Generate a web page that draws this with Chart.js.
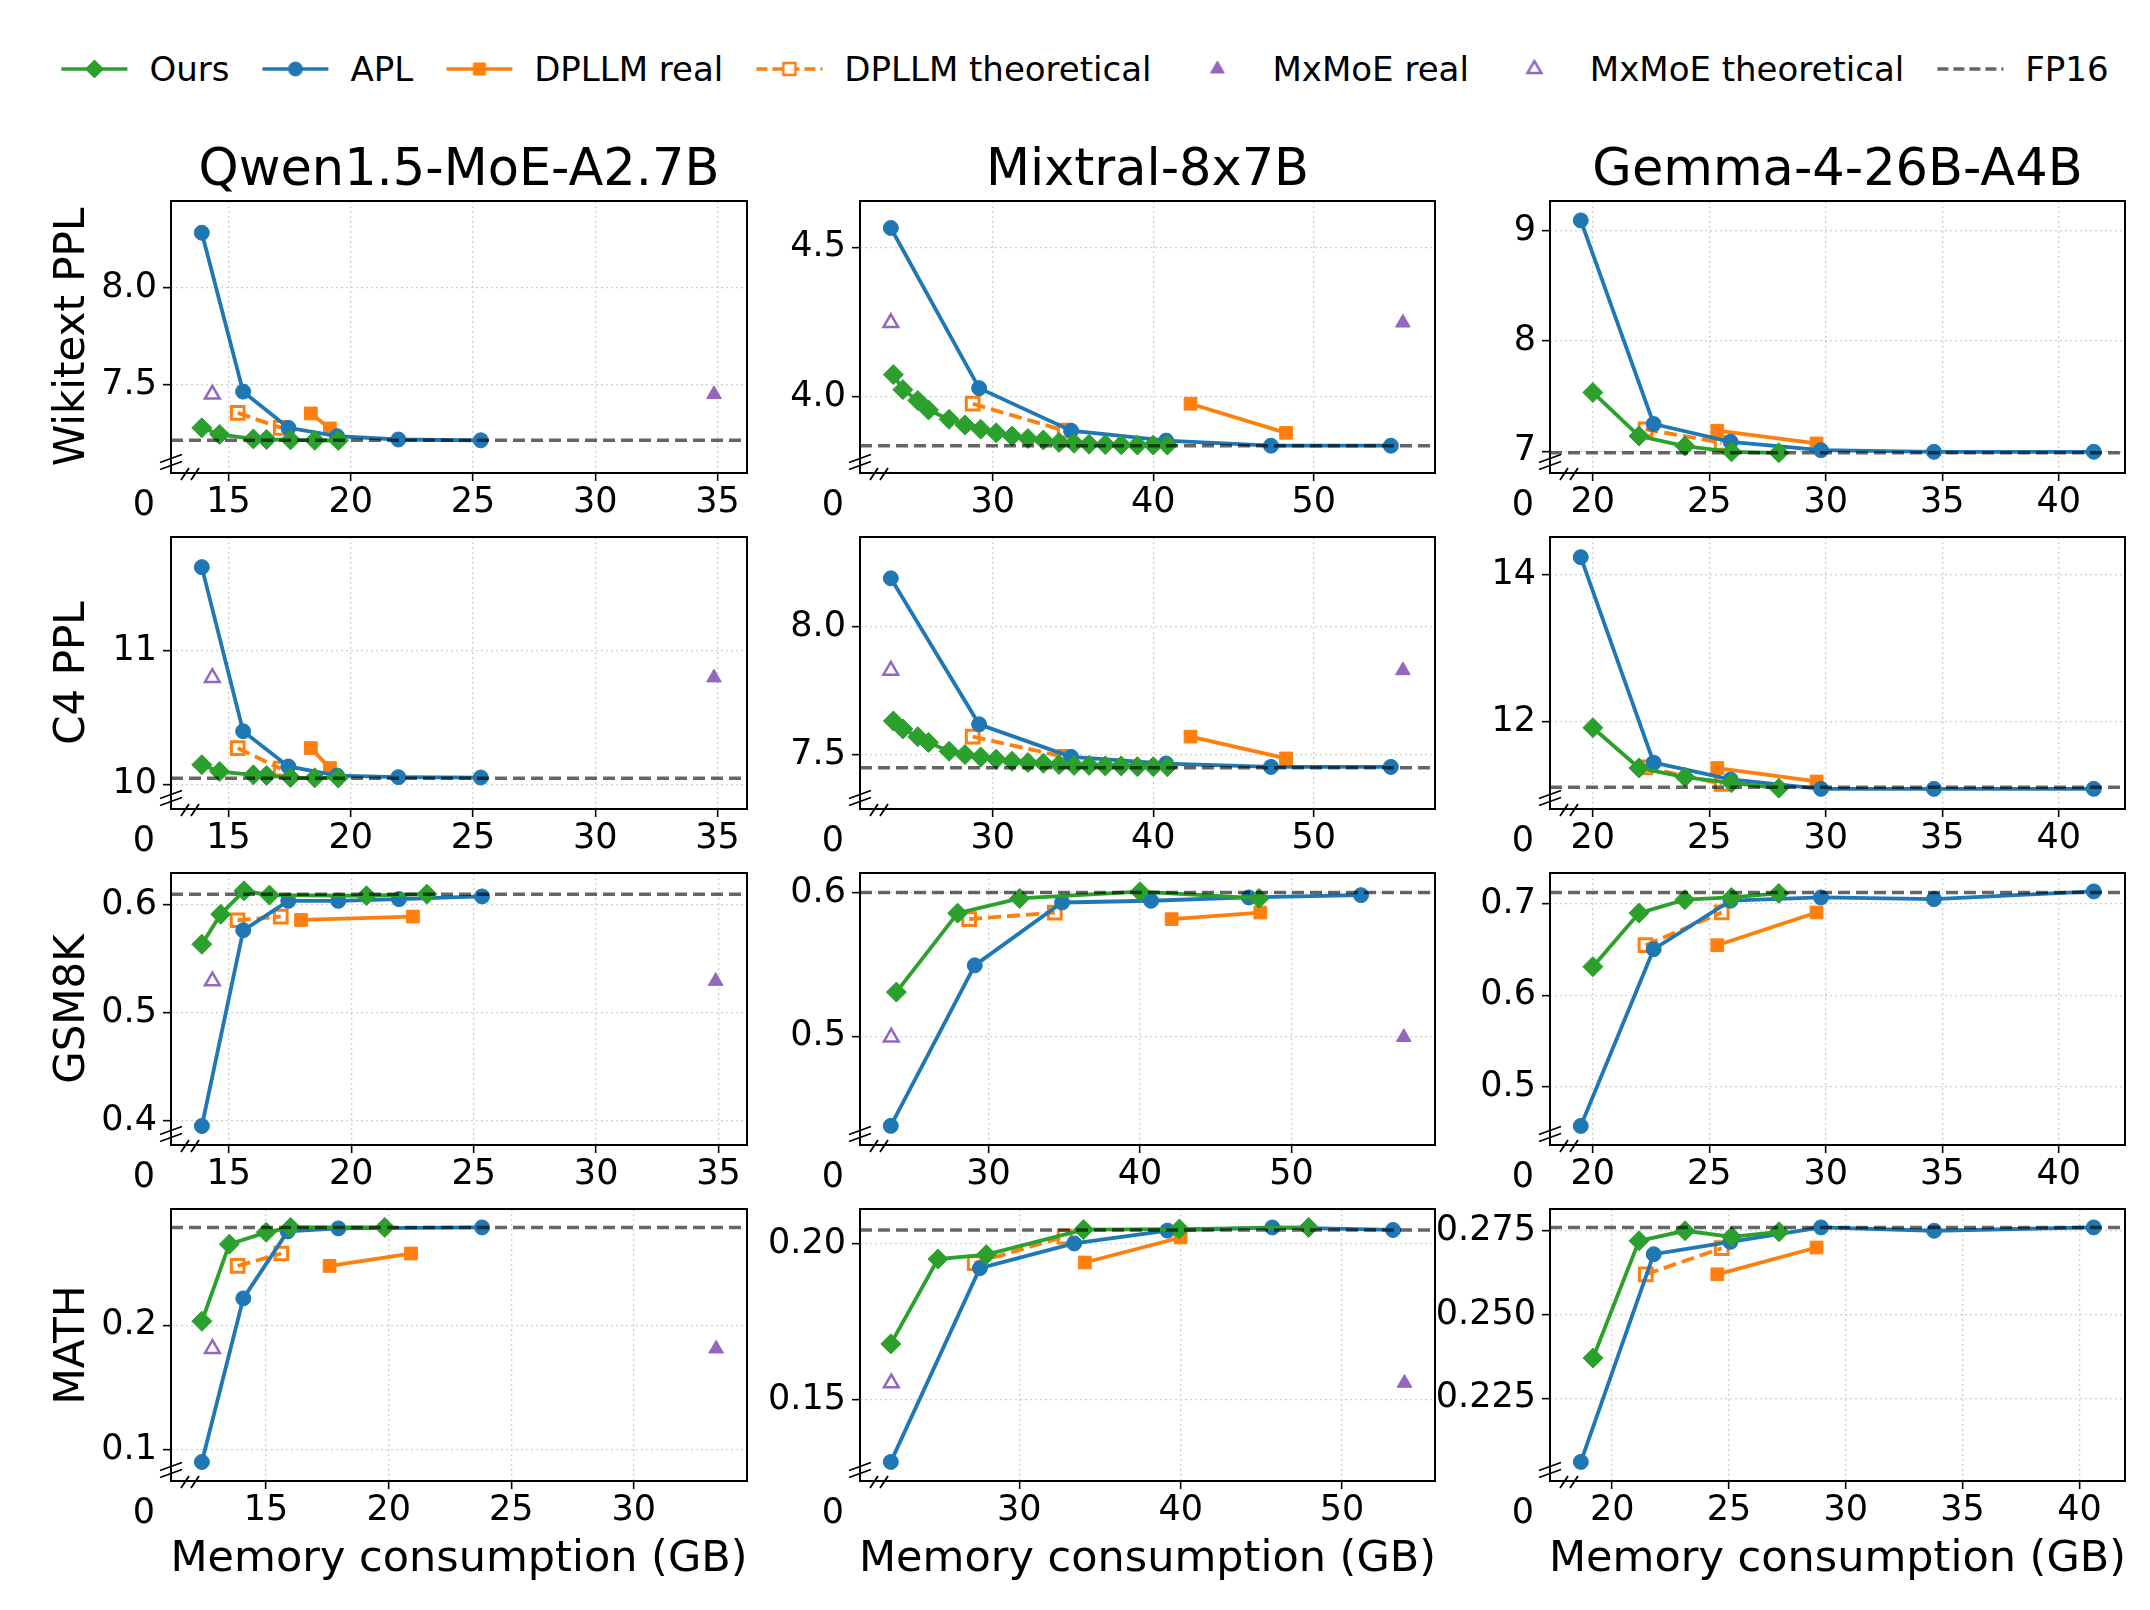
<!DOCTYPE html>
<html>
<head>
<meta charset="utf-8">
<script src="https://cdn.jsdelivr.net/npm/chart.js@4.4.0/dist/chart.umd.min.js"></script>
<style>
  body { margin: 0; background: #fff; }
  #fig { position: relative; width: 2150px; height: 1610px; overflow: hidden;
         font-family: 'DejaVu Sans', sans-serif; color: #000; }
  canvas.panel { position: absolute; }
  .txt { position: absolute; white-space: nowrap; line-height: 1; transform: translate(-50%, -50%); }
  .ylab { transform: translate(-50%, -50%) rotate(-90deg); }
  #legend { position: absolute; left: 1085px; top: 69px; transform: translate(-50%, -50%);
            display: flex; align-items: center; font-size: 34px; white-space: nowrap; }
  #legend .item { display: flex; align-items: center; margin-right: 33px; }
  #legend .item:last-child { margin-right: 0; }
  #legend span { margin-left: 22px; line-height: 1; }
</style>
</head>
<body>
<div id="fig"><div id="legend"></div></div>
<script>
// ---------------- data (memory GB, metric) ----------------

// x ticks per column
const qwenXTicks     = [15, 20, 25, 30, 35];
const qwenMathXTicks = [15, 20, 25, 30];
const mixtralXTicks  = [30, 40, 50];
const gemmaXTicks    = [20, 25, 30, 35, 40];

/* ---- Qwen1.5-MoE-A2.7B : Wikitext PPL ---- */
const qwenWikiOurs   = [[13.91, 7.280], [14.64, 7.246], [16.02, 7.223], [16.56, 7.220], [17.54, 7.218], [18.53, 7.216], [19.49, 7.215]];
const qwenWikiApl    = [[13.91, 8.282], [15.60, 7.466], [17.45, 7.280], [19.44, 7.237], [21.95, 7.220], [25.32, 7.216]];
const qwenWikiDpTheo = [[15.38, 7.357], [17.14, 7.280]];
const qwenWikiDpReal = [[18.37, 7.354], [19.15, 7.277]];
const qwenWikiMxTheo = [[14.34, 7.452]];
const qwenWikiMxReal = [[34.86, 7.452]];
const qwenWikiFp16   = 7.216;
const qwenWikiXLim   = [12.65, 36.21];
const qwenWikiYLim   = [7.048, 8.445];
const qwenWikiYTicks = ['7.5', '8.0'];

/* ---- Mixtral-8x7B : Wikitext PPL ---- */
const mixWikiOurs   = [[23.81, 4.075], [24.40, 4.025], [25.33, 3.989], [26.00, 3.957], [27.28, 3.926], [28.27, 3.907],
                       [29.25, 3.893], [30.21, 3.881], [31.20, 3.870], [32.19, 3.862], [33.15, 3.857], [34.13, 3.849],
                       [35.07, 3.846], [36.00, 3.843], [37.01, 3.842], [38.00, 3.841], [39.01, 3.840], [40.00, 3.840], [40.88, 3.840]];
const mixWikiApl    = [[23.65, 4.564], [29.15, 4.030], [34.88, 3.888], [40.80, 3.855], [47.33, 3.838], [54.80, 3.838]];
const mixWikiDpTheo = [[28.75, 3.978], [34.48, 3.888]];
const mixWikiDpReal = [[42.32, 3.978], [48.27, 3.881]];
const mixWikiMxTheo = [[23.65, 4.248]];
const mixWikiMxReal = [[55.55, 4.248]];
const mixWikiFp16   = 3.838;
const mixWikiXLim   = [21.73, 57.55];
const mixWikiYLim   = [3.747, 4.654];
const mixWikiYTicks = ['4.0', '4.5'];

/* ---- Gemma-4-26B-A4B : Wikitext PPL ---- */
const gemWikiOurs   = [[20.00, 7.532], [21.98, 7.137], [23.95, 7.046], [25.95, 6.994], [27.98, 6.985]];
const gemWikiApl    = [[19.48, 9.091], [22.61, 7.246], [25.91, 7.085], [29.79, 7.009], [34.64, 6.994], [41.50, 6.994]];
const gemWikiDpTheo = [[22.26, 7.198], [25.53, 7.076]];
const gemWikiDpReal = [[25.34, 7.185], [29.60, 7.070]];
const gemWikiFp16   = 6.985;
const gemWikiXLim   = [18.16, 42.84];
const gemWikiYLim   = [6.802, 9.267];
const gemWikiYTicks = ['7', '8', '9'];

/* ---- Qwen : C4 PPL ---- */
const qwenC4Ours   = [[13.91, 10.146], [14.64, 10.095], [16.02, 10.070], [16.56, 10.065], [17.54, 10.050], [18.53, 10.048], [19.49, 10.047]];
const qwenC4Apl    = [[13.91, 11.628], [15.60, 10.397], [17.45, 10.133], [19.44, 10.065], [21.95, 10.053], [25.32, 10.050]];
const qwenC4DpTheo = [[15.38, 10.271], [17.14, 10.116]];
const qwenC4DpReal = [[18.37, 10.271], [19.15, 10.121]];
const qwenC4MxTheo = [[14.34, 10.799]];
const qwenC4MxReal = [[34.86, 10.799]];
const qwenC4Fp16   = 10.045;
const qwenC4XLim   = [12.65, 36.21];
const qwenC4YLim   = [9.814, 11.854];
const qwenC4YTicks = ['10', '11'];

/* ---- Mixtral : C4 PPL ---- */
const mixC4Ours   = [[23.81, 7.632], [24.40, 7.601], [25.33, 7.571], [26.00, 7.548], [27.28, 7.514], [28.27, 7.501],
                     [29.25, 7.492], [30.21, 7.483], [31.20, 7.475], [32.19, 7.470], [33.15, 7.467], [34.13, 7.462],
                     [35.07, 7.459], [36.00, 7.459], [37.01, 7.457], [38.00, 7.457], [39.01, 7.454], [40.00, 7.454], [40.88, 7.454]];
const mixC4Apl    = [[23.65, 8.188], [29.15, 7.619], [34.88, 7.492], [40.80, 7.466], [47.33, 7.453], [54.80, 7.453]];
const mixC4DpTheo = [[28.75, 7.571], [34.48, 7.492]];
const mixC4DpReal = [[42.32, 7.571], [48.27, 7.486]];
const mixC4MxTheo = [[23.65, 7.829]];
const mixC4MxReal = [[55.55, 7.829]];
const mixC4Fp16   = 7.450;
const mixC4XLim   = [21.73, 57.55];
const mixC4YLim   = [7.289, 8.349];
const mixC4YTicks = ['7.5', '8.0'];

/* ---- Gemma : C4 PPL ---- */
const gemC4Ours   = [[20.00, 11.918], [21.98, 11.370], [23.95, 11.247], [25.95, 11.169], [27.98, 11.096]];
const gemC4Apl    = [[19.48, 14.237], [22.61, 11.443], [25.91, 11.215], [29.79, 11.087], [34.64, 11.087], [41.50, 11.087]];
const gemC4DpTheo = [[22.26, 11.380], [25.53, 11.155]];
const gemC4DpReal = [[25.34, 11.370], [29.60, 11.187]];
const gemC4Fp16   = 11.110;
const gemC4XLim   = [18.16, 42.84];
const gemC4YLim   = [10.813, 14.511];
const gemC4YTicks = ['12', '14'];

/* ---- Qwen : GSM8K ---- */
const qwenGsmOurs   = [[13.90, 0.5634], [14.67, 0.5913], [15.62, 0.6130], [16.66, 0.6090], [20.62, 0.6084], [23.09, 0.6099]];
const qwenGsmApl    = [[13.90, 0.3950], [15.59, 0.5764], [17.43, 0.6037], [19.47, 0.6037], [21.95, 0.6053], [25.34, 0.6078]];
const qwenGsmDpTheo = [[15.36, 0.5857], [17.12, 0.5891]];
const qwenGsmDpReal = [[17.95, 0.5860], [22.52, 0.5891]];
const qwenGsmMxTheo = [[14.33, 0.5293]];
const qwenGsmMxReal = [[34.88, 0.5293]];
const qwenGsmFp16   = 0.6099;
const qwenGsmXLim   = [12.64, 36.16];
const qwenGsmYLim   = [0.3774, 0.6295];
const qwenGsmYTicks = ['0.4', '0.5', '0.6'];

/* ---- Mixtral : GSM8K ---- */
const mixGsmOurs   = [[23.93, 0.5307], [27.97, 0.5856], [32.06, 0.5958], [40.00, 0.6005], [47.85, 0.5958]];
const mixGsmApl    = [[23.56, 0.4377], [29.10, 0.5493], [34.86, 0.5930], [40.73, 0.5942], [47.18, 0.5965], [54.58, 0.5981]];
const mixGsmDpTheo = [[28.73, 0.5814], [34.38, 0.5860]];
const mixGsmDpReal = [[42.09, 0.5814], [47.94, 0.5860]];
const mixGsmMxTheo = [[23.59, 0.4993]];
const mixGsmMxReal = [[57.40, 0.4993]];
const mixGsmFp16   = 0.600;
const mixGsmXLim   = [21.53, 59.46];
const mixGsmYLim   = [0.4244, 0.6135];
const mixGsmYTicks = ['0.5', '0.6'];

/* ---- Gemma : GSM8K ---- */
const gemGsmOurs   = [[20.00, 0.6314], [21.98, 0.6901], [23.95, 0.7048], [25.95, 0.7073], [27.98, 0.7117]];
const gemGsmApl    = [[19.48, 0.4567], [22.61, 0.6505], [25.91, 0.7037], [29.79, 0.7073], [34.64, 0.7055], [41.50, 0.7139]];
const gemGsmDpTheo = [[22.26, 0.6549], [25.53, 0.6908]];
const gemGsmDpReal = [[25.34, 0.6549], [29.60, 0.6908]];
const gemGsmFp16   = 0.7128;
const gemGsmXLim   = [18.16, 42.84];
const gemGsmYLim   = [0.4358, 0.7341];
const gemGsmYTicks = ['0.5', '0.6', '0.7'];

/* ---- Qwen : MATH ---- */
const qwenMathOurs   = [[12.38, 0.2032], [13.50, 0.2652], [15.00, 0.2747], [16.00, 0.2787], [19.84, 0.2787]];
const qwenMathApl    = [[12.38, 0.0900], [14.07, 0.2216], [15.88, 0.2755], [17.95, 0.2779], [23.81, 0.2787]];
const qwenMathDpTheo = [[13.84, 0.2477], [15.62, 0.2577]];
const qwenMathDpReal = [[17.59, 0.2477], [20.91, 0.2577]];
const qwenMathMxTheo = [[12.81, 0.1811]];
const qwenMathMxReal = [[33.36, 0.1811]];
const qwenMathFp16   = 0.2787;
const qwenMathXLim   = [11.12, 34.62];
const qwenMathYLim   = [0.0747, 0.2935];
const qwenMathYTicks = ['0.1', '0.2'];

/* ---- Mixtral : MATH ---- */
const mixMathOurs   = [[22.04, 0.1679], [24.96, 0.1950], [27.96, 0.1964], [33.98, 0.2044], [39.92, 0.2046], [47.93, 0.2051]];
const mixMathApl    = [[22.04, 0.1302], [27.56, 0.1921], [33.40, 0.2000], [39.18, 0.2041], [45.68, 0.2051], [53.16, 0.2043]];
const mixMathDpTheo = [[27.24, 0.1937], [32.81, 0.2022]];
const mixMathDpReal = [[34.06, 0.1939], [40.00, 0.2019]];
const mixMathMxTheo = [[22.07, 0.1554]];
const mixMathMxReal = [[53.87, 0.1554]];
const mixMathFp16   = 0.2043;
const mixMathXLim   = [20.13, 55.76];
const mixMathYLim   = [0.1241, 0.2110];
const mixMathYTicks = ['0.15', '0.20'];

/* ---- Gemma : MATH ---- */
const gemMathOurs   = [[19.18, 0.2370], [21.15, 0.2720], [23.12, 0.2750], [25.11, 0.2732], [27.14, 0.2747]];
const gemMathApl    = [[18.66, 0.2060], [21.78, 0.2680], [25.06, 0.2717], [28.94, 0.2760], [33.78, 0.2750], [40.61, 0.2760]];
const gemMathDpTheo = [[21.44, 0.2620], [24.69, 0.2698]];
const gemMathDpReal = [[24.50, 0.2620], [28.75, 0.2700]];
const gemMathFp16   = 0.2760;
const gemMathXLim   = [17.34, 41.95];
const gemMathYLim   = [0.2003, 0.2815];
const gemMathYTicks = ['0.225', '0.250', '0.275'];

const modelTitles = ['Qwen1.5-MoE-A2.7B', 'Mixtral-8x7B', 'Gemma-4-26B-A4B'];
const rowLabels   = ['Wikitext PPL', 'C4 PPL', 'GSM8K', 'MATH'];
const xAxisLabel  = 'Memory consumption (GB)';

// ---------------- layout ----------------
const colLeft  = [171, 860, 1550];
const colRight = [747, 1435, 2125];
const rowTop   = [201, 537, 873, 1209];
const rowH     = 272;
const PADL = 150, PADR = 14, PADT = 14, PADB = 62;
const LW = 3.8;   // line width of the series

const GREEN = '#2ca02c', BLUE = '#1f77b4', ORANGE = '#ff7f0e', PURPLE = '#9467bd';
const FP_COLOR = 'rgba(0,0,0,0.6)';
const NONE = 'rgba(0,0,0,0)';

Chart.defaults.font.family = "'DejaVu Sans', sans-serif";

const panels = [
  { row: 0, col: 0, xTicks: qwenXTicks, xLim: qwenWikiXLim, yLim: qwenWikiYLim, yTicks: qwenWikiYTicks, fp16: qwenWikiFp16,
    ours: qwenWikiOurs, apl: qwenWikiApl, dTheo: qwenWikiDpTheo, dReal: qwenWikiDpReal, mTheo: qwenWikiMxTheo, mReal: qwenWikiMxReal },
  { row: 0, col: 1, xTicks: mixtralXTicks, xLim: mixWikiXLim, yLim: mixWikiYLim, yTicks: mixWikiYTicks, fp16: mixWikiFp16,
    ours: mixWikiOurs, apl: mixWikiApl, dTheo: mixWikiDpTheo, dReal: mixWikiDpReal, mTheo: mixWikiMxTheo, mReal: mixWikiMxReal },
  { row: 0, col: 2, xTicks: gemmaXTicks, xLim: gemWikiXLim, yLim: gemWikiYLim, yTicks: gemWikiYTicks, fp16: gemWikiFp16,
    ours: gemWikiOurs, apl: gemWikiApl, dTheo: gemWikiDpTheo, dReal: gemWikiDpReal },
  { row: 1, col: 0, xTicks: qwenXTicks, xLim: qwenC4XLim, yLim: qwenC4YLim, yTicks: qwenC4YTicks, fp16: qwenC4Fp16,
    ours: qwenC4Ours, apl: qwenC4Apl, dTheo: qwenC4DpTheo, dReal: qwenC4DpReal, mTheo: qwenC4MxTheo, mReal: qwenC4MxReal },
  { row: 1, col: 1, xTicks: mixtralXTicks, xLim: mixC4XLim, yLim: mixC4YLim, yTicks: mixC4YTicks, fp16: mixC4Fp16,
    ours: mixC4Ours, apl: mixC4Apl, dTheo: mixC4DpTheo, dReal: mixC4DpReal, mTheo: mixC4MxTheo, mReal: mixC4MxReal },
  { row: 1, col: 2, xTicks: gemmaXTicks, xLim: gemC4XLim, yLim: gemC4YLim, yTicks: gemC4YTicks, fp16: gemC4Fp16,
    ours: gemC4Ours, apl: gemC4Apl, dTheo: gemC4DpTheo, dReal: gemC4DpReal },
  { row: 2, col: 0, xTicks: qwenXTicks, xLim: qwenGsmXLim, yLim: qwenGsmYLim, yTicks: qwenGsmYTicks, fp16: qwenGsmFp16,
    ours: qwenGsmOurs, apl: qwenGsmApl, dTheo: qwenGsmDpTheo, dReal: qwenGsmDpReal, mTheo: qwenGsmMxTheo, mReal: qwenGsmMxReal },
  { row: 2, col: 1, xTicks: mixtralXTicks, xLim: mixGsmXLim, yLim: mixGsmYLim, yTicks: mixGsmYTicks, fp16: mixGsmFp16,
    ours: mixGsmOurs, apl: mixGsmApl, dTheo: mixGsmDpTheo, dReal: mixGsmDpReal, mTheo: mixGsmMxTheo, mReal: mixGsmMxReal },
  { row: 2, col: 2, xTicks: gemmaXTicks, xLim: gemGsmXLim, yLim: gemGsmYLim, yTicks: gemGsmYTicks, fp16: gemGsmFp16,
    ours: gemGsmOurs, apl: gemGsmApl, dTheo: gemGsmDpTheo, dReal: gemGsmDpReal },
  { row: 3, col: 0, xTicks: qwenMathXTicks, xLim: qwenMathXLim, yLim: qwenMathYLim, yTicks: qwenMathYTicks, fp16: qwenMathFp16,
    ours: qwenMathOurs, apl: qwenMathApl, dTheo: qwenMathDpTheo, dReal: qwenMathDpReal, mTheo: qwenMathMxTheo, mReal: qwenMathMxReal },
  { row: 3, col: 1, xTicks: mixtralXTicks, xLim: mixMathXLim, yLim: mixMathYLim, yTicks: mixMathYTicks, fp16: mixMathFp16,
    ours: mixMathOurs, apl: mixMathApl, dTheo: mixMathDpTheo, dReal: mixMathDpReal, mTheo: mixMathMxTheo, mReal: mixMathMxReal },
  { row: 3, col: 2, xTicks: gemmaXTicks, xLim: gemMathXLim, yLim: gemMathYLim, yTicks: gemMathYTicks, fp16: gemMathFp16,
    ours: gemMathOurs, apl: gemMathApl, dTheo: gemMathDpTheo, dReal: gemMathDpReal },
];

const fig = document.getElementById('fig');

function addText(str, x, y, size, cls) {
  const d = document.createElement('div');
  d.className = 'txt' + (cls ? ' ' + cls : '');
  d.style.left = x + 'px';
  d.style.top = y + 'px';
  d.style.fontSize = size + 'px';
  d.textContent = str;
  fig.appendChild(d);
}

const pts = arr => arr.map(([x, y]) => ({ x, y }));

// frame on all four sides + the "//" broken-axis marks at the origin corner
const framePlugin = {
  id: 'frame',
  afterDraw(chart) {
    const { ctx, chartArea: a } = chart;
    ctx.save();
    ctx.strokeStyle = '#000';
    ctx.lineWidth = 2;
    ctx.strokeRect(a.left, a.top, a.right - a.left, a.bottom - a.top);
    ctx.lineWidth = 1.8;
    ctx.beginPath();
    const yb = a.bottom - 11;
    for (const d of [-3.5, 3.5]) {
      ctx.moveTo(a.left - 11, yb + d + 4);
      ctx.lineTo(a.left + 11, yb + d - 4);
    }
    const xb = a.left + 19;
    for (const d of [-5, 5]) {
      ctx.moveTo(xb + d - 4, a.bottom + 7);
      ctx.lineTo(xb + d + 4, a.bottom - 5);
    }
    ctx.stroke();
    ctx.restore();
  }
};

function buildDatasets(p) {
  const list = [
    { label: 'FP16', data: [{ x: p.xLim[0], y: p.fp16 }, { x: p.xLim[1], y: p.fp16 }], showLine: true,
      borderColor: FP_COLOR, borderWidth: 3.5, borderDash: [12, 6], pointRadius: 0, order: 0 },
    { label: 'Ours', data: pts(p.ours), showLine: true, borderColor: GREEN, borderWidth: LW,
      pointStyle: 'rectRot', pointRadius: 10, pointBackgroundColor: GREEN, pointBorderColor: GREEN, pointBorderWidth: 1, order: 1 },
    { label: 'APL', data: pts(p.apl), showLine: true, borderColor: BLUE, borderWidth: LW,
      pointStyle: 'circle', pointRadius: 7.5, pointBackgroundColor: BLUE, pointBorderColor: BLUE, pointBorderWidth: 1, order: 2 },
    { label: 'DPLLM theoretical', data: pts(p.dTheo), showLine: true, borderColor: ORANGE, borderWidth: LW, borderDash: [13, 6],
      pointStyle: 'rect', pointRadius: 9, pointBackgroundColor: NONE, pointBorderColor: ORANGE, pointBorderWidth: 3, order: 3 },
    { label: 'DPLLM real', data: pts(p.dReal), showLine: true, borderColor: ORANGE, borderWidth: LW,
      pointStyle: 'rect', pointRadius: 9, pointBackgroundColor: ORANGE, pointBorderColor: ORANGE, pointBorderWidth: 1, order: 4 },
  ];
  if (p.mTheo) {
    list.push({ label: 'MxMoE theoretical', data: pts(p.mTheo), showLine: false,
      pointStyle: 'triangle', pointRadius: 8.5, pointBackgroundColor: NONE, pointBorderColor: PURPLE, pointBorderWidth: 2.5, order: 5 });
    list.push({ label: 'MxMoE real', data: pts(p.mReal), showLine: false,
      pointStyle: 'triangle', pointRadius: 8.5, pointBackgroundColor: PURPLE, pointBorderColor: PURPLE, pointBorderWidth: 1, order: 5 });
  }
  return list;
}

function axisOpts(tickValues, tickLabels, lim, isX) {
  return {
    type: 'linear',
    min: lim[0],
    max: lim[1],
    afterBuildTicks: s => { s.ticks = tickValues.map(v => ({ value: v })); },
    afterFit: s => {
      if (isX) s.height = PADB; else s.width = PADL;
      s.paddingLeft = s.paddingRight = s.paddingTop = s.paddingBottom = 0;
    },
    ticks: {
      autoSkip: false, maxRotation: 0, color: '#000', padding: isX ? 1 : 6,
      font: { size: 35 },
      callback: (v, i) => tickLabels[i]
    },
    grid: { color: '#cfcfcf', lineWidth: 1.3, drawTicks: true, tickLength: 8, tickWidth: 1.6, tickColor: '#000' },
    border: { display: false, dash: [2, 3] }
  };
}

panels.forEach(p => {
  const L = colLeft[p.col], W = colRight[p.col] - L, T = rowTop[p.row], H = rowH;
  const cw = W + PADL + PADR, ch = H + PADT + PADB;
  const canvas = document.createElement('canvas');
  canvas.className = 'panel';
  canvas.width = cw; canvas.height = ch;
  canvas.style.left = (L - PADL) + 'px';
  canvas.style.top = (T - PADT) + 'px';
  canvas.style.width = cw + 'px';
  canvas.style.height = ch + 'px';
  fig.appendChild(canvas);

  const yVals = p.yTicks.map(Number);
  new Chart(canvas, {
    type: 'scatter',
    data: { datasets: buildDatasets(p) },
    options: {
      responsive: false,
      animation: false,
      events: [],
      layout: { padding: { left: 0, right: PADR, top: PADT, bottom: 0 } },
      plugins: { legend: { display: false }, tooltip: { enabled: false } },
      scales: {
        x: axisOpts(p.xTicks, p.xTicks.map(String), p.xLim, true),
        y: axisOpts(yVals, p.yTicks, p.yLim, false)
      }
    },
    plugins: [framePlugin]
  });

  // the "0" that marks the broken origin
  addText('0', L - 27, T + H + 30, 35);
});

// titles, row labels, x labels
modelTitles.forEach((t, c) => addText(t, (colLeft[c] + colRight[c]) / 2, 167, 51));
rowLabels.forEach((t, r) => addText(t, 70, rowTop[r] + rowH / 2, 42, 'ylab'));
modelTitles.forEach((t, c) => addText(xAxisLabel, (colLeft[c] + colRight[c]) / 2, 1556, 43));

/* ------------------------------ legend ------------------------------ */
const legendItems = [
  { label: 'Ours', color: GREEN, line: true, marker: 'diamond', fill: true },
  { label: 'APL', color: BLUE, line: true, marker: 'circle', fill: true },
  { label: 'DPLLM real', color: ORANGE, line: true, marker: 'square', fill: true },
  { label: 'DPLLM theoretical', color: ORANGE, line: true, dash: [11, 5], marker: 'square', fill: false },
  { label: 'MxMoE real', color: PURPLE, line: false, marker: 'triangle', fill: true },
  { label: 'MxMoE theoretical', color: PURPLE, line: false, marker: 'triangle', fill: false },
  { label: 'FP16', color: FP_COLOR, line: true, dash: [11, 5], marker: null },
];

const legend = document.getElementById('legend');
legendItems.forEach(it => {
  const item = document.createElement('div');
  item.className = 'item';
  const cv = document.createElement('canvas');
  cv.width = 66; cv.height = 40;
  cv.style.width = '66px'; cv.style.height = '40px';
  const g = cv.getContext('2d');
  const cy = 20, cx = 33;
  if (it.line) {
    g.strokeStyle = it.color; g.lineWidth = 3.5;
    g.setLineDash(it.dash || []);
    g.beginPath(); g.moveTo(0, cy); g.lineTo(66, cy); g.stroke();
    g.setLineDash([]);
  }
  if (it.marker) {
    g.beginPath();
    if (it.marker === 'diamond') {
      g.moveTo(cx - 9, cy); g.lineTo(cx, cy - 9); g.lineTo(cx + 9, cy); g.lineTo(cx, cy + 9); g.closePath();
    } else if (it.marker === 'circle') {
      g.arc(cx, cy, 7, 0, Math.PI * 2);
    } else if (it.marker === 'square') {
      g.rect(cx - 6, cy - 6, 12, 12);
    } else if (it.marker === 'triangle') {
      const r = 8;
      g.moveTo(cx, cy - r);
      g.lineTo(cx + r * Math.sin(2 * Math.PI / 3), cy - r * Math.cos(2 * Math.PI / 3));
      g.lineTo(cx + r * Math.sin(4 * Math.PI / 3), cy - r * Math.cos(4 * Math.PI / 3));
      g.closePath();
    }
    if (it.fill) { g.fillStyle = it.color; g.fill(); }
    else if (it.line) { g.fillStyle = '#fff'; g.fill(); }
    g.strokeStyle = it.color; g.lineWidth = it.fill ? 1 : 2.5; g.stroke();
  }
  const span = document.createElement('span');
  span.textContent = it.label;
  item.appendChild(cv);
  item.appendChild(span);
  legend.appendChild(item);
});
</script>
</body>
</html>
